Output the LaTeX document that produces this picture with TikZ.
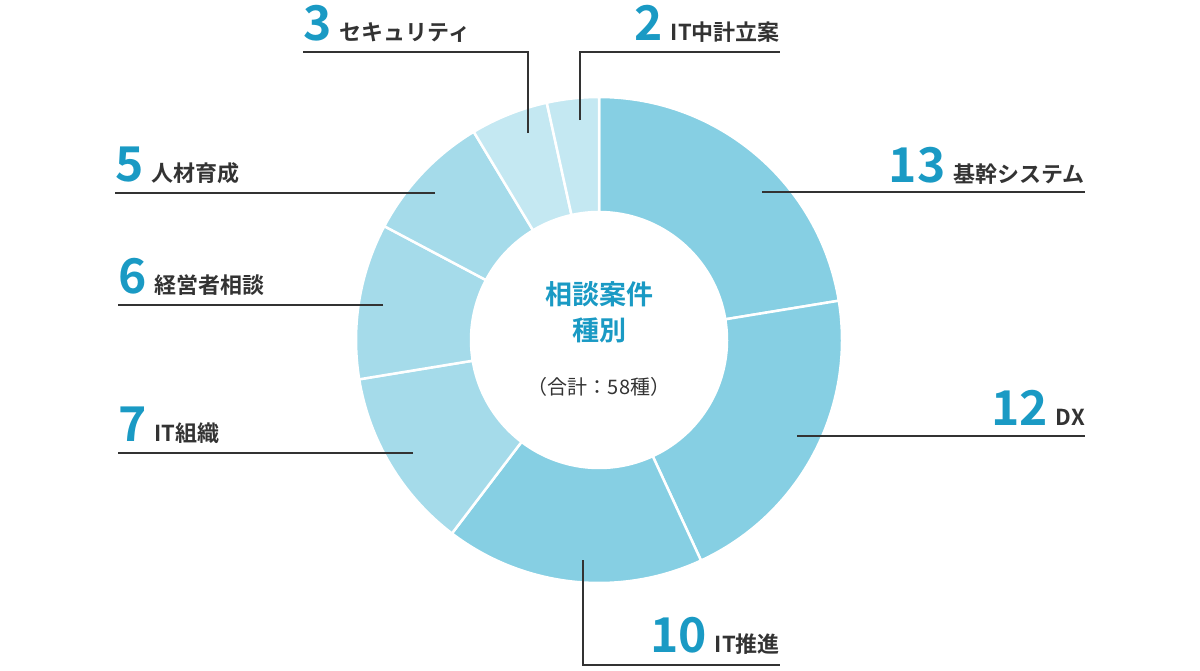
\documentclass[tikz,border=0pt]{standalone}
\usepackage{fontspec}
\setmainfont{Noto Sans CJK JP}
\newfontfamily\jpbold{Noto Sans CJK JP Bold}
\definecolor{segdark}{HTML}{86CFE3}
\definecolor{segmid}{HTML}{A5DBEA}
\definecolor{seglight}{HTML}{C4E8F2}
\definecolor{numblue}{HTML}{1A9AC4}
\definecolor{txtgrey}{HTML}{333333}
\tikzset{
  leader/.style={draw=txtgrey, line width=1.2pt},
  lab/.style={inner sep=0pt, text=txtgrey, font=\jpbold\fontsize{22}{24}\selectfont},
}
\newcommand{\bignum}[1]{{\fontsize{48}{50}\selectfont\color{numblue}#1}\hspace{8pt}}

\begin{document}
\begin{tikzpicture}[x=1pt, y=-1pt]
  \useasboundingbox (0, 0) rectangle (1200, 670);
  % donut
  \begin{scope}[shift={(599, 340)}]
    \foreach \a/\b/\c in {0/13/segdark, 13/25/segdark, 25/35/segdark, 35/42/segmid, 42/48/segmid, 48/53/segmid, 53/56/seglight, 56/58/seglight}
      \filldraw[fill=\c, draw=white, line width=2.5pt] ({-90+\a*6.2069}:243) arc[start angle={-90+\a*6.2069}, end angle={-90+\b*6.2069}, radius=243] -- ({-90+\b*6.2069}:128) arc[start angle={-90+\b*6.2069}, end angle={-90+\a*6.2069}, radius=128] -- cycle;
  \end{scope}
  % centre
  \node[align=center, text=numblue, font=\jpbold\fontsize{27}{36}\selectfont] (title) at (599, 312) {相談案件\\種別};
  \node[text=txtgrey, font=\fontsize{20}{22}\selectfont] (total) at (599, 387) {（合計：58種）};
  % leader lines
  \coordinate (k13) at (762, 192); \coordinate (e13) at (1085, 192);
  \coordinate (k12) at (797, 436); \coordinate (e12) at (1085, 436);
  \coordinate (k10) at (583, 560); \coordinate (m10) at (583, 665); \coordinate (e10) at (780, 665);
  \coordinate (k7) at (413, 453); \coordinate (e7) at (118, 453);
  \coordinate (k6) at (383, 305); \coordinate (e6) at (118, 305);
  \coordinate (k5) at (435, 193); \coordinate (e5) at (115, 193);
  \coordinate (k3) at (528, 133); \coordinate (m3) at (528, 52); \coordinate (e3) at (303, 52);
  \coordinate (k2) at (580, 120); \coordinate (m2) at (580, 52); \coordinate (e2) at (780, 52);
  \draw[leader] (k13) -- (e13);
  \draw[leader] (k12) -- (e12);
  \draw[leader] (k10) -- (m10) -- (e10);
  \draw[leader] (k7) -- (e7);
  \draw[leader] (k6) -- (e6);
  \draw[leader] (k5) -- (e5);
  \draw[leader] (k3) -- (m3) -- (e3);
  \draw[leader] (k2) -- (m2) -- (e2);
  % labels
  \node[lab, anchor=base east] (l13) at (1085, 182) {\bignum{13}基幹システム};
  \node[lab, anchor=base east] (l12) at (1085, 425) {\bignum{12}DX};
  \node[lab, anchor=base east] (l10) at (780, 652) {\bignum{10}IT推進};
  \node[lab, anchor=base west] (l7) at (118, 441) {\bignum{7}IT組織};
  \node[lab, anchor=base west] (l6) at (118, 293) {\bignum{6}経営者相談};
  \node[lab, anchor=base west] (l5) at (115, 181) {\bignum{5}人材育成};
  \node[lab, anchor=base west] (l3) at (303, 40) {\bignum{3}セキュリティ};
  \node[lab, anchor=base east] (l2) at (780, 40) {\bignum{2}IT中計立案};
\end{tikzpicture}
\end{document}
